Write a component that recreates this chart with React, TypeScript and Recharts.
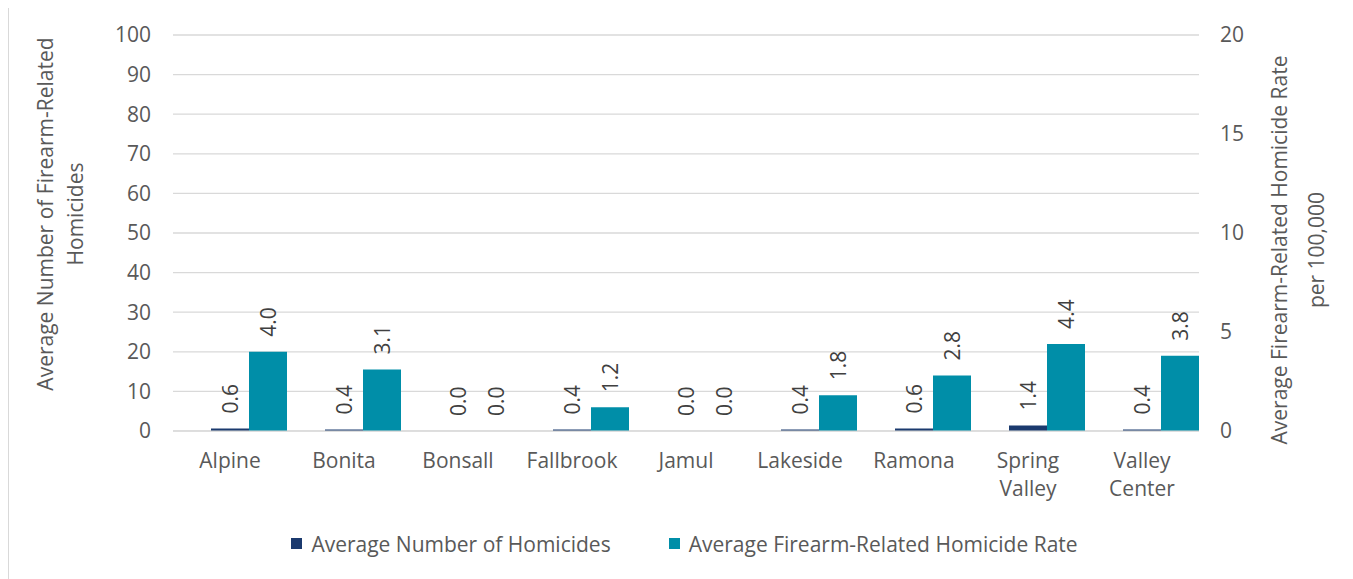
import { Bar, BarChart, CartesianGrid, LabelList, Legend, XAxis, YAxis } from "recharts"

const FONT = "'Open Sans', sans-serif"
const FS = 21
const TEXT = "#595959"
const NAVY = "#1B3A6E"
const TEAL = "#008EA8"

const communities = ["Alpine", "Bonita", "Bonsall", "Fallbrook", "Jamul", "Lakeside", "Ramona", "Spring Valley", "Valley Center"]
const avgHomicides = [0.6, 0.4, 0.0, 0.4, 0.0, 0.4, 0.6, 1.4, 0.4]
const avgRate = [4.0, 3.1, 0.0, 1.2, 0.0, 1.8, 2.8, 4.4, 3.8]
const leftTicks = [0, 10, 20, 30, 40, 50, 60, 70, 80, 90, 100]
const rightTicks = [0, 5, 10, 15, 20]

const data = communities.map((name, i) => ({
  name,
  homicides: avgHomicides[i],
  rate: avgRate[i],
}))

function CategoryTick(props: any) {
  const { x, y, payload } = props
  const lines = String(payload.value).split(" ")
  return (
    <text x={x} y={y} textAnchor="middle" fill={TEXT} fontSize={FS} fontFamily={FONT}>
      {lines.map((l, i) => (
        <tspan key={i} x={x} dy={i === 0 ? "0.71em" : 28}>
          {l}
        </tspan>
      ))}
    </text>
  )
}

function BarValue(props: any) {
  const { x, y, width, value } = props
  const tx = Number(x) + Number(width) / 2 + 8
  const ty = Number(y) - 15
  return (
    <text
      x={tx}
      y={ty}
      transform={`rotate(-90 ${tx} ${ty})`}
      textAnchor="start"
      fill="#404040"
      fontSize={FS}
      fontFamily={FONT}
    >
      {Number(value).toFixed(1)}
    </text>
  )
}

function LeftTitle() {
  return (
    <text transform="translate(37 206) rotate(-90)" textAnchor="middle" fill={TEXT} fontSize={FS} fontFamily={FONT}>
      <tspan x={0} dy="0.35em">Average Number of Firearm-Related</tspan>
      <tspan x={0} dy={30}>Homicides</tspan>
    </text>
  )
}

function RightTitle() {
  return (
    <text transform="translate(1271 242) rotate(-90)" textAnchor="middle" fill={TEXT} fontSize={FS} fontFamily={FONT}>
      <tspan x={0} dy="0.35em">Average Firearm-Related Homicide Rate</tspan>
      <tspan x={0} dy={37}>per 100,000</tspan>
    </text>
  )
}

const legendItems = [
  { label: "Average Number of Homicides", color: NAVY },
  { label: "Average Firearm-Related Homicide Rate", color: TEAL },
]

function LegendBox() {
  return (
    <div
      style={{
        height: 45,
        display: "flex",
        alignItems: "center",
        justifyContent: "center",
        gap: 58,
        paddingLeft: 15,
        fontFamily: FONT,
        fontSize: FS,
        color: TEXT,
      }}
    >
      {legendItems.map((it) => (
        <div key={it.label} style={{ display: "flex", alignItems: "center", gap: 9 }}>
          <span style={{ width: 11, height: 11, background: it.color, display: "inline-block" }} />
          <span>{it.label}</span>
        </div>
      ))}
    </div>
  )
}

export default function App() {
  return (
    <div
      style={{
        width: 1338,
        height: 600,
        marginTop: -1,
        border: "1px solid #d9d9d9",
        boxSizing: "border-box",
        background: "#fff",
      }}
    >
      <BarChart
        width={1336}
        height={570}
        data={data}
        margin={{ top: 27, right: 20, left: 20, bottom: 12 }}
        barCategoryGap={0}
        barGap={0}
      >
        <CartesianGrid vertical={false} stroke="#d9d9d9" strokeWidth={1.3} yAxisId="left" />
        <XAxis
          dataKey="name"
          axisLine={{ stroke: "#d9d9d9" }}
          tickLine={false}
          tickSize={0}
          tickMargin={22}
          height={90}
          interval={0}
          tick={<CategoryTick />}
        />
        <YAxis
          yAxisId="left"
          domain={[0, 100]}
          ticks={leftTicks}
          axisLine={false}
          tickLine={false}
          tickSize={0}
          tickMargin={22}
          width={144}
          tick={{ fill: TEXT, fontSize: FS, fontFamily: FONT }}
          label={{ content: () => <LeftTitle /> }}
        />
        <YAxis
          yAxisId="right"
          orientation="right"
          domain={[0, 20]}
          ticks={rightTicks}
          axisLine={false}
          tickLine={false}
          tickSize={0}
          tickMargin={21}
          width={126}
          tick={{ fill: TEXT, fontSize: FS, fontFamily: FONT }}
          label={{ content: () => <RightTitle /> }}
        />
        <Legend verticalAlign="bottom" height={45} content={() => <LegendBox />} />
        <Bar yAxisId="left" dataKey="spacer" legendType="none" fill="none" isAnimationActive={false} />
        <Bar
          yAxisId="left"
          dataKey="homicides"
          name="Average Number of Homicides"
          fill={NAVY}
          minPointSize={0.01}
          isAnimationActive={false}
        >
          <LabelList dataKey="homicides" content={<BarValue />} />
        </Bar>
        <Bar
          yAxisId="right"
          dataKey="rate"
          name="Average Firearm-Related Homicide Rate"
          fill={TEAL}
          minPointSize={0.01}
          isAnimationActive={false}
        >
          <LabelList dataKey="rate" content={<BarValue />} />
        </Bar>
      </BarChart>
    </div>
  )
}
